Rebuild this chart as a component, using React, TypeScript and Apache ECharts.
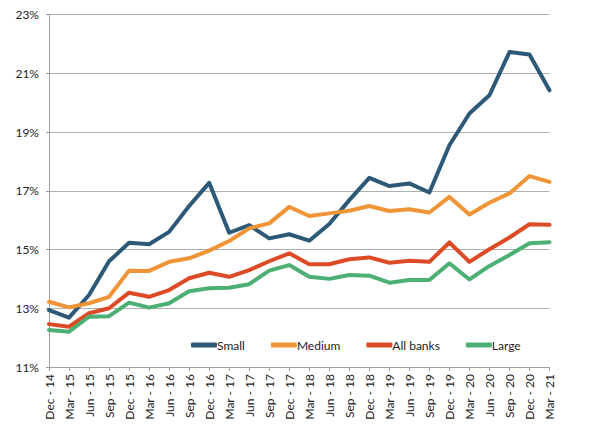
import React, { useEffect, useRef } from "react";
import * as echarts from "echarts";

const categories = [
  "Dec - 14", "Mar - 15", "Jun - 15", "Sep - 15", "Dec - 15", "Mar - 16", "Jun - 16",
  "Sep - 16", "Dec - 16", "Mar - 17", "Jun - 17", "Sep - 17", "Dec - 17", "Mar - 18",
  "Jun - 18", "Sep - 18", "Dec - 18", "Mar - 19", "Jun - 19", "Sep - 19", "Dec - 19",
  "Mar - 20", "Jun - 20", "Sep - 20", "Dec - 20", "Mar - 21",
];

const small = [
  12.94, 12.68, 13.45, 14.6, 15.23, 15.18, 15.6, 16.48, 17.27, 15.57, 15.83, 15.38, 15.52,
  15.3, 15.87, 16.68, 17.44, 17.16, 17.25, 16.94, 18.55, 19.63, 20.25, 21.72, 21.64, 20.42,
];
const medium = [
  13.22, 13.03, 13.17, 13.39, 14.28, 14.27, 14.58, 14.7, 14.96, 15.29, 15.72, 15.89, 16.45,
  16.14, 16.23, 16.32, 16.48, 16.31, 16.37, 16.26, 16.79, 16.19, 16.59, 16.91, 17.5, 17.3,
];
const allBanks = [
  12.46, 12.37, 12.83, 13.0, 13.53, 13.39, 13.62, 14.02, 14.21, 14.07, 14.3, 14.6, 14.87,
  14.5, 14.5, 14.67, 14.73, 14.55, 14.62, 14.58, 15.24, 14.58, 15.01, 15.41, 15.86, 15.84,
];
const large = [
  12.26, 12.2, 12.71, 12.73, 13.19, 13.02, 13.17, 13.58, 13.68, 13.7, 13.82, 14.28, 14.47,
  14.07, 14.0, 14.13, 14.11, 13.87, 13.96, 13.96, 14.53, 13.98, 14.44, 14.81, 15.21, 15.25,
];

const seriesNames = ["Small", "Medium", "All banks", "Large"];
const seriesColors = ["#2D5978", "#F09537", "#DD4B26", "#4CAF73"];

const FONT = "Lato, 'Noto Sans', sans-serif";

export default function App() {
  const ref = useRef<HTMLDivElement>(null);
  useEffect(() => {
    document.body.style.margin = "0";
    const chart = echarts.init(ref.current!, null, { renderer: "svg" });
    const data = [small, medium, allBanks, large];
    chart.setOption({
      animation: false,
      grid: { left: 49, right: 40.5, top: 14.5, bottom: 61, containLabel: false },
      legend: {
        left: 186,
        top: 334,
        itemWidth: 26,
        itemHeight: 5,
        itemGap: 26,
        icon: "roundRect",
        data: seriesNames,
        textStyle: { fontFamily: FONT, fontSize: 12, color: "#222", padding: [0, 0, 0, -5] },
      },
      xAxis: {
        type: "category",
        data: categories,
        boundaryGap: false,
        axisLine: { lineStyle: { color: "#A0A0A0", width: 1 } },
        axisTick: { show: true, length: 4, inside: false, lineStyle: { color: "#A0A0A0" } },
        axisLabel: {
          rotate: 90,
          interval: 0,
          margin: 7,
          fontFamily: FONT,
          fontSize: 12,
          color: "#222",
        },
        splitLine: { show: false },
      },
      yAxis: {
        type: "value",
        min: 11,
        max: 23,
        interval: 2,
        axisLine: { show: true, lineStyle: { color: "#A0A0A0", width: 1 } },
        axisTick: { show: true, length: 3, lineStyle: { color: "#A0A0A0" } },
        axisLabel: {
          formatter: (v: number) => `${v}%`,
          margin: 10,
          fontFamily: FONT,
          fontSize: 12,
          color: "#222",
        },
        splitLine: { show: true, lineStyle: { color: "#B0B0B0", width: 1 } },
      },
      series: seriesNames.map((name, i) => ({
        name,
        type: "line",
        data: data[i],
        symbol: "none",
        color: seriesColors[i],
        lineStyle: { width: 4, color: seriesColors[i], cap: "round", join: "round" },
      })),
    });
    return () => chart.dispose();
  }, []);
  return <div ref={ref} style={{ width: 590, height: 428 }} />;
}
